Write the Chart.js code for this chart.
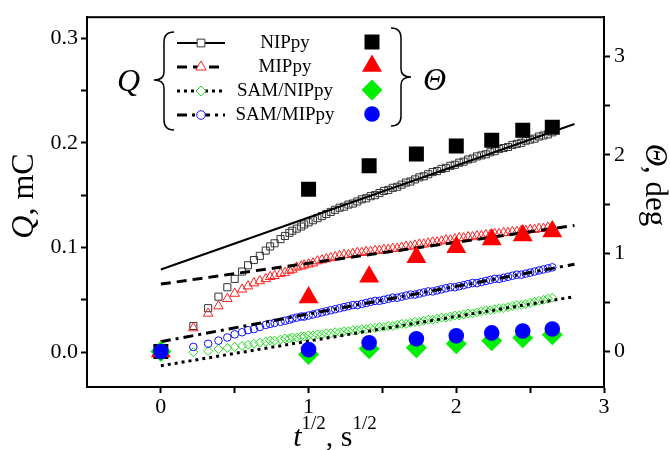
<!DOCTYPE html>
<html>
<head>
<meta charset="utf-8">
<script src="https://cdn.jsdelivr.net/npm/chart.js@4.4.1/dist/chart.umd.min.js"></script>
<style>
  html, body { margin: 0; padding: 0; background: #fff; }
</style>
</head>
<body>
<canvas id="chart" width="670" height="450"></canvas>
<script>
const seriesNames = ['NIPpy', 'MIPpy', 'SAM/NIPpy', 'SAM/MIPpy'];

// Q curves (open markers), x = t^1/2
const qX = [0, 0.22, 0.32, 0.39, 0.45, 0.50, 0.55, 0.59, 0.63, 0.67, 0.71, 0.74, 0.77, 0.81, 0.84, 0.87, 0.89, 0.92, 0.95, 0.97,
  1.00, 1.03, 1.06, 1.09, 1.12, 1.15, 1.18, 1.21, 1.24, 1.27,
  1.30, 1.33, 1.36, 1.39, 1.42, 1.45, 1.48, 1.51, 1.54, 1.57,
  1.60, 1.63, 1.66, 1.69, 1.72, 1.75, 1.78, 1.81, 1.84, 1.87,
  1.90, 1.93, 1.96, 1.99, 2.02, 2.05, 2.08, 2.11, 2.14, 2.17,
  2.20, 2.23, 2.26, 2.29, 2.32, 2.35, 2.38, 2.41, 2.44, 2.47,
  2.50, 2.53, 2.56, 2.59, 2.62, 2.65];
const qNIP = [0, 0.025, 0.042, 0.053, 0.062, 0.070, 0.077, 0.083, 0.088, 0.092, 0.097, 0.101, 0.104, 0.108, 0.111, 0.114, 0.116, 0.118, 0.120, 0.122,
  0.124, 0.126, 0.128, 0.130, 0.132, 0.134, 0.136, 0.138, 0.139, 0.141,
  0.142, 0.144, 0.146, 0.147, 0.149, 0.150, 0.152, 0.154, 0.155, 0.157,
  0.158, 0.160, 0.162, 0.163, 0.165, 0.167, 0.168, 0.170, 0.172, 0.173,
  0.175, 0.176, 0.178, 0.179, 0.181, 0.182, 0.184, 0.185, 0.187, 0.188,
  0.189, 0.191, 0.192, 0.194, 0.195, 0.196, 0.198, 0.199, 0.200, 0.202,
  0.203, 0.204, 0.206, 0.207, 0.208, 0.210];
const qMIP = [0, 0.023, 0.037, 0.044, 0.051, 0.056, 0.060, 0.063, 0.066, 0.068, 0.070, 0.072, 0.073, 0.075, 0.076, 0.078, 0.079, 0.081, 0.082, 0.083,
  0.084, 0.085, 0.087, 0.088, 0.089, 0.090, 0.091, 0.092, 0.093, 0.093,
  0.094, 0.095, 0.095, 0.096, 0.096, 0.097, 0.097, 0.098, 0.098, 0.099,
  0.099, 0.100, 0.101, 0.101, 0.102, 0.103, 0.103, 0.104, 0.105, 0.105,
  0.106, 0.107, 0.107, 0.108, 0.109, 0.109, 0.110, 0.110, 0.111, 0.111,
  0.112, 0.112, 0.113, 0.113, 0.114, 0.114, 0.115, 0.115, 0.116, 0.116,
  0.117, 0.117, 0.118, 0.118, 0.119, 0.120];
const qSAMNIP = [0, 0.000, 0.001, 0.003, 0.004, 0.005, 0.006, 0.007, 0.008, 0.009, 0.010, 0.011, 0.011, 0.012, 0.013, 0.013, 0.014, 0.014, 0.015, 0.015,
  0.016, 0.016, 0.017, 0.017, 0.018, 0.018, 0.019, 0.019, 0.020, 0.020,
  0.021, 0.021, 0.022, 0.022, 0.023, 0.023, 0.024, 0.024, 0.025, 0.025,
  0.026, 0.027, 0.027, 0.028, 0.029, 0.029, 0.030, 0.031, 0.031, 0.032,
  0.033, 0.033, 0.034, 0.035, 0.035, 0.036, 0.037, 0.037, 0.038, 0.039,
  0.040, 0.040, 0.041, 0.042, 0.042, 0.043, 0.044, 0.045, 0.045, 0.046,
  0.047, 0.048, 0.049, 0.050, 0.051, 0.052];
const qSAMMIP = [0, 0.005, 0.008, 0.011, 0.014, 0.017, 0.019, 0.021, 0.022, 0.024, 0.026, 0.027, 0.028, 0.029, 0.030, 0.031, 0.032, 0.033, 0.034, 0.034,
  0.035, 0.036, 0.037, 0.038, 0.039, 0.040, 0.041, 0.042, 0.043, 0.044,
  0.045, 0.045, 0.046, 0.047, 0.048, 0.049, 0.049, 0.050, 0.051, 0.052,
  0.052, 0.053, 0.054, 0.055, 0.055, 0.056, 0.057, 0.058, 0.058, 0.059,
  0.060, 0.061, 0.062, 0.062, 0.063, 0.064, 0.065, 0.066, 0.066, 0.067,
  0.068, 0.069, 0.070, 0.070, 0.071, 0.072, 0.073, 0.074, 0.074, 0.075,
  0.076, 0.077, 0.078, 0.079, 0.080, 0.081];

// linear fits of Q (end points)
const fitX = [0, 2.8];
const fitNIP = [0.079, 0.218];
const fitMIP = [0.065, 0.121];
const fitSAMNIP = [-0.013, 0.053];
const fitSAMMIP = [0.010, 0.084];

// contact angle change, right axis
const thetaX = [0, 1, 1.41, 1.73, 2, 2.24, 2.45, 2.65];
const thetaNIP = [0, 1.65, 1.89, 2.01, 2.09, 2.15, 2.25, 2.28];
const thetaMIP = [0, 0.55, 0.76, 0.96, 1.06, 1.14, 1.18, 1.22];
const thetaSAMNIP = [0, -0.03, 0.03, 0.04, 0.08, 0.11, 0.14, 0.17];
const thetaSAMMIP = [0, 0.02, 0.09, 0.13, 0.16, 0.19, 0.21, 0.23];

// tick values
const xTicks = [0, 0.5, 1, 1.5, 2, 2.5, 3];
const qTicks = [0, 0.05, 0.1, 0.15, 0.2, 0.25, 0.3];
const thetaTicks = [0, 0.5, 1, 1.5, 2, 2.5, 3];

const serif = '"Liberation Serif", "DejaVu Serif", serif';
const pts = (xs, ys) => xs.map((x, i) => ({ x: x, y: ys[i] }));

const colors = ['#000000', '#ff0000', '#00ee00', '#0000ff'];
const openColors = ['#333333', '#ff2020', '#22dd22', '#1010ff'];
const styles = ['rect', 'triangle', 'rectRot', 'circle'];
const openRadius = [5, 5.5, 4.5, 3.8];
const bigRadius = [10.6, 11.5, 10.5, 7.8];
const dashes = [[], [10, 6], [3, 4], [10, 5, 3, 5]];
const lineW = [2, 3, 3, 3];

const qSeries = [qNIP, qMIP, qSAMNIP, qSAMMIP];
const fitSeries = [fitNIP, fitMIP, fitSAMNIP, fitSAMMIP];
const thetaSeries = [thetaNIP, thetaMIP, thetaSAMNIP, thetaSAMMIP];

const datasets = [];
qSeries.forEach((s, i) => {
  datasets.push({
    label: seriesNames[i] + ' Q', data: pts(qX, s), yAxisID: 'y',
    showLine: false, pointStyle: styles[i], pointRadius: openRadius[i],
    pointBorderWidth: 1, pointBorderColor: openColors[i], pointBackgroundColor: 'rgba(0,0,0,0)',
    order: 20 - i
  });
});
fitSeries.forEach((s, i) => {
  datasets.push({
    type: 'line', label: seriesNames[i] + ' fit', data: pts(fitX, s), yAxisID: 'y',
    borderColor: '#000', borderWidth: lineW[i], borderDash: dashes[i], pointRadius: 0,
    showLine: true, fill: false, tension: 0, order: 10
  });
});
thetaSeries.forEach((s, i) => {
  datasets.push({
    label: seriesNames[i] + ' Θ', data: pts(thetaX, s), yAxisID: 'y2',
    showLine: false, pointStyle: styles[i], pointRadius: bigRadius[i],
    pointBorderWidth: 0, pointBackgroundColor: colors[i], pointBorderColor: colors[i],
    order: 5 - i
  });
});

function setTicks(list) {
  return function (scale) { scale.ticks = list.map(v => ({ value: v })); };
}
function gridOpts() {
  return { display: true, drawOnChartArea: false, drawTicks: true, tickLength: 6, tickWidth: 2, tickColor: '#000' };
}
const tickFont = { family: serif, size: 22 };

function drawParts(ctx, parts, x, y) {
  let cx = x;
  parts.forEach(p => {
    ctx.font = p[1];
    ctx.fillText(p[0], cx, y + (p[2] || 0));
    cx += ctx.measureText(p[0]).width;
  });
}
function partsWidth(ctx, parts) {
  let w = 0;
  parts.forEach(p => { ctx.font = p[1]; w += ctx.measureText(p[0]).width; });
  return w;
}

const decor = {
  id: 'decor',
  afterDraw(chart) {
    const ctx = chart.ctx;
    const a = chart.chartArea;
    ctx.save();
    ctx.strokeStyle = '#000';
    ctx.fillStyle = '#000';
    ctx.lineWidth = 2;
    ctx.strokeRect(a.left, a.top, a.right - a.left, a.bottom - a.top);

    // axis titles
    ctx.textBaseline = 'alphabetic';
    ctx.textAlign = 'left';
    const big = '30px ' + serif, bigI = 'italic 30px ' + serif, sup = '19px ' + serif;
    let parts = [['Q', 'italic 32px ' + serif], [', mC', '32px ' + serif]];
    let w = partsWidth(ctx, parts);
    ctx.save();
    ctx.translate(33, 196);
    ctx.rotate(-Math.PI / 2);
    drawParts(ctx, parts, -w / 2, 0);
    ctx.restore();

    parts = [['Θ', 'italic 31px ' + serif], [', deg', '31px ' + serif]];
    w = partsWidth(ctx, parts);
    ctx.save();
    ctx.translate(646, 185);
    ctx.rotate(Math.PI / 2);
    drawParts(ctx, parts, -w / 2, 0);
    ctx.restore();

    parts = [['t', bigI], ['1/2', sup, -17], [', s', big], ['1/2', sup, -17]];
    w = partsWidth(ctx, parts);
    drawParts(ctx, parts, 335 - w / 2, 446);

    // legend
    const rows = [43, 67, 91, 115];
    rows.forEach((y, i) => {
      ctx.save();
      ctx.lineWidth = lineW[i];
      ctx.setLineDash(dashes[i]);
      ctx.beginPath();
      ctx.moveTo(177, y);
      ctx.lineTo(225, y);
      ctx.stroke();
      ctx.restore();
      ctx.save();
      ctx.fillStyle = '#fff';
      ctx.strokeStyle = openColors[i];
      ctx.lineWidth = 1;
      Chart.helpers.drawPoint(ctx, { pointStyle: styles[i], radius: openRadius[i] + 0.5, borderWidth: 1 }, 201, y);
      ctx.restore();
      ctx.save();
      ctx.fillStyle = colors[i];
      ctx.strokeStyle = colors[i];
      ctx.lineWidth = 0.01;
      Chart.helpers.drawPoint(ctx, { pointStyle: styles[i], radius: bigRadius[i], borderWidth: 0 }, 372, y - 1);
      ctx.restore();
      ctx.font = '19px ' + serif;
      ctx.textAlign = 'center';
      ctx.textBaseline = 'middle';
      ctx.fillText(seriesNames[i], 285, y);
    });

    // braces
    ctx.lineWidth = 1.5;
    ctx.beginPath();
    ctx.moveTo(174, 32);
    ctx.quadraticCurveTo(164, 32, 164, 42);
    ctx.lineTo(164, 72);
    ctx.quadraticCurveTo(164, 80, 154, 80);
    ctx.quadraticCurveTo(164, 80, 164, 88);
    ctx.lineTo(164, 120);
    ctx.quadraticCurveTo(164, 130, 174, 130);
    ctx.stroke();

    ctx.beginPath();
    ctx.moveTo(391, 28);
    ctx.quadraticCurveTo(401, 28, 401, 38);
    ctx.lineTo(401, 69);
    ctx.quadraticCurveTo(401, 77, 411, 77);
    ctx.quadraticCurveTo(401, 77, 401, 85);
    ctx.lineTo(401, 116);
    ctx.quadraticCurveTo(401, 126, 391, 126);
    ctx.stroke();

    ctx.textAlign = 'left';
    ctx.textBaseline = 'alphabetic';
    ctx.font = 'italic 32px ' + serif;
    ctx.fillText('Q', 117, 91);
    ctx.fillText('Θ', 423, 90);
    ctx.restore();
  }
};

new Chart(document.getElementById('chart'), {
  type: 'scatter',
  data: { datasets: datasets },
  options: {
    responsive: false,
    animation: false,
    layout: { padding: { left: 0, right: 0, top: 12, bottom: 0 } },
    plugins: { legend: { display: false }, tooltip: { enabled: false } },
    scales: {
      x: {
        type: 'linear', min: -0.5, max: 3,
        afterBuildTicks: setTicks(xTicks),
        afterFit: s => { s.height = 63; },
        grid: gridOpts(),
        border: { display: true, color: '#000', width: 2 },
        ticks: {
          font: tickFont, color: '#000', padding: 1, maxRotation: 0, autoSkip: false,
          callback: v => Number.isInteger(v) ? String(v) : ''
        }
      },
      y: {
        type: 'linear', position: 'left', min: -0.0333, max: 0.32,
        afterBuildTicks: setTicks(qTicks),
        afterFit: s => { s.width = 87; },
        grid: gridOpts(),
        border: { display: true, color: '#000', width: 2 },
        ticks: {
          font: tickFont, color: '#000', padding: 3, autoSkip: false,
          callback: v => Math.abs(v * 10 - Math.round(v * 10)) < 1e-6 ? v.toFixed(1) : ''
        }
      },
      y2: {
        type: 'linear', position: 'right', min: -0.36, max: 3.4,
        afterBuildTicks: setTicks(thetaTicks),
        afterFit: s => { s.width = 66; },
        grid: gridOpts(),
        border: { display: true, color: '#000', width: 2 },
        ticks: {
          font: tickFont, color: '#000', padding: 4, autoSkip: false,
          callback: v => Number.isInteger(v) ? String(v) : ''
        }
      }
    }
  },
  plugins: [decor]
});
</script>
</body>
</html>
